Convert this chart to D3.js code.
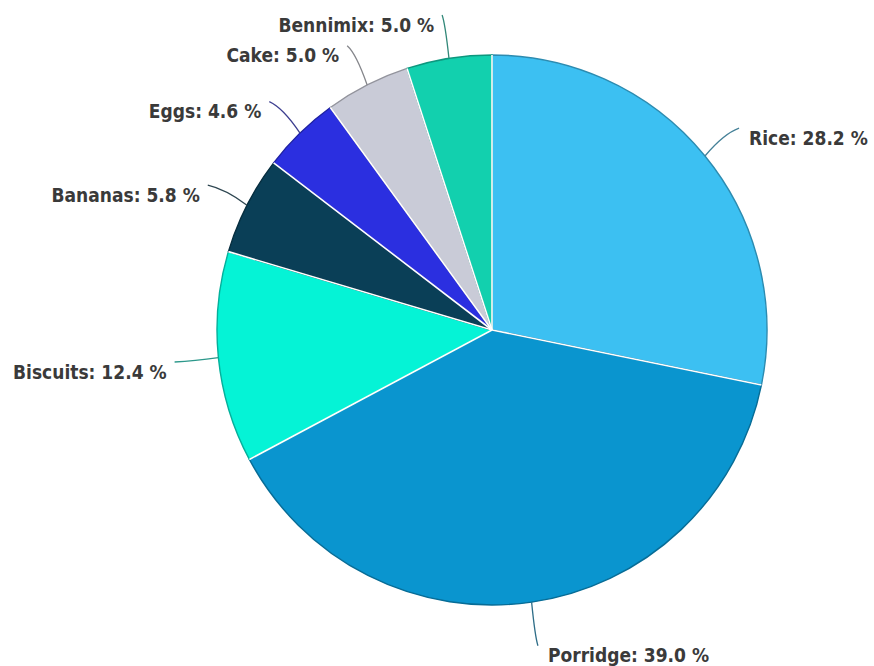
<!DOCTYPE html>
<html>
<head>
<meta charset="utf-8">
<script src="https://cdn.jsdelivr.net/npm/d3@7"></script>
<style>
  html, body { margin: 0; padding: 0; background: #ffffff; }
  svg { display: block; }
  .lbl {
    font-family: "Liberation Sans Narrow", "DejaVu Sans Condensed", "Noto Sans", sans-serif;
    font-weight: 700;
    font-size: 19px;
    fill: #3a3a3a;
  }
</style>
</head>
<body>
<svg id="chart" width="874" height="666"></svg>
<script>
// Food categories, clockwise from 12 o'clock
const categories = ["Rice", "Porridge", "Biscuits", "Bananas", "Eggs", "Cake", "Bennimix"];
// Share of each category, in percent
const shares = [28.2, 39.0, 12.4, 5.8, 4.6, 5.0, 5.0];
const colors = ["#3cc0f2", "#0a95cf", "#05f3d6", "#0a3f57", "#2b2fe0", "#c9cbd7", "#12d0ae"];

const width = 874, height = 666;
const cx = 492, cy = 330, radius = 275;
const labelGap = 44;

const data = categories.map((c, i) => ({ name: c, value: shares[i], color: colors[i] }));

const svg = d3.select("#chart");
const g = svg.append("g").attr("transform", `translate(${cx},${cy})`);

const pie = d3.pie().value(d => d.value).sort(null);
const arcs = pie(data);
const arc = d3.arc().innerRadius(0).outerRadius(radius);

// Slices with a slightly darker rim
g.selectAll("path.slice")
  .data(arcs)
  .join("path")
  .attr("class", "slice")
  .attr("d", arc)
  .attr("fill", d => d.data.color)
  .attr("stroke", d => d3.color(d.data.color).darker(0.9))
  .attr("stroke-width", 1.4)
  .attr("stroke-linejoin", "round");

// White separators between neighbouring slices
const polar = (a, r) => [Math.sin(a) * r, -Math.cos(a) * r];
g.selectAll("line.sep")
  .data(arcs)
  .join("line")
  .attr("class", "sep")
  .attr("x1", 0).attr("y1", 0)
  .attr("x2", d => polar(d.startAngle, radius)[0])
  .attr("y2", d => polar(d.startAngle, radius)[1])
  .attr("stroke", "#ffffff")
  .attr("stroke-width", 1.6);

// Connectors from the rim out to each label
const mid = d => (d.startAngle + d.endAngle) / 2;
const connector = d => {
  const a = mid(d);
  const [ex, ey] = polar(a, radius);
  const [px, py] = polar(a, radius + labelGap);
  const qx = ex + (px - ex) * 0.55;
  const qy = py + (ey - py) * 0.2;
  return `M${px},${py} Q${qx},${qy} ${ex},${ey}`;
};

g.selectAll("path.conn")
  .data(arcs)
  .join("path")
  .attr("class", "conn")
  .attr("d", connector)
  .attr("fill", "none")
  .attr("stroke", d => d3.interpolateRgb(d3.color(d.data.color).darker(1), "#777")(0.35))
  .attr("stroke-width", 1.3);

// Labels sit just beyond the connector's outer end
g.selectAll("text.lbl")
  .data(arcs)
  .join("text")
  .attr("class", "lbl")
  .attr("x", d => {
    const [px] = polar(mid(d), radius + labelGap);
    return px < 0 ? px - 8 : px + 10;
  })
  .attr("y", d => polar(mid(d), radius + labelGap)[1] + 10)
  .attr("dy", "0.35em")
  .attr("text-anchor", d => (Math.sin(mid(d)) < 0 ? "end" : "start"))
  .text(d => `${d.data.name}: ${d.data.value.toFixed(1)} %`);
</script>
</body>
</html>
